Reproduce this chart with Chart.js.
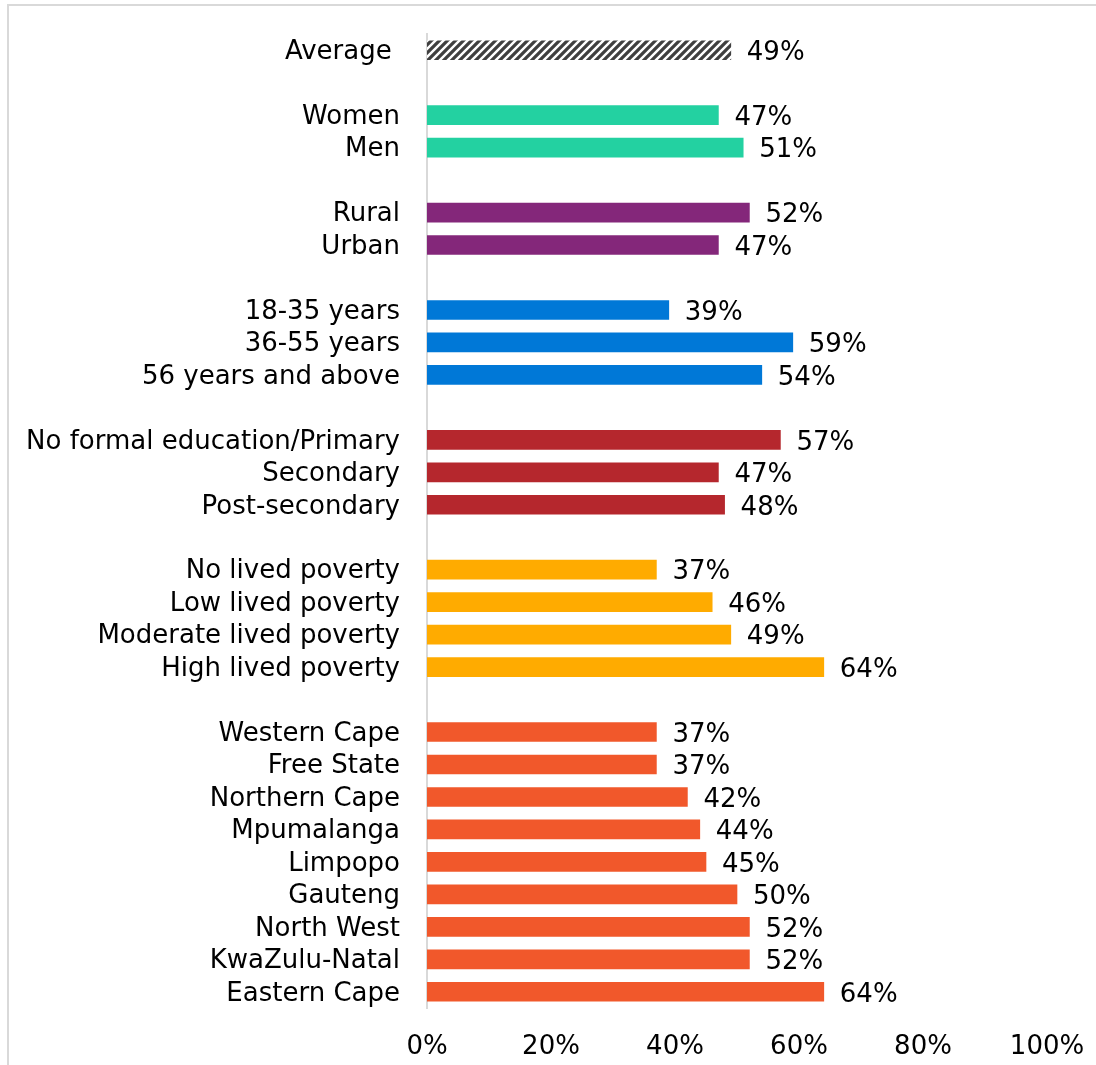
<!DOCTYPE html>
<html>
<head>
<meta charset="utf-8">
<script src="https://cdn.jsdelivr.net/npm/chart.js@4/dist/chart.umd.min.js"></script>
<style>
  html, body { margin: 0; padding: 0; background: #fff; }
  #wrap { position: relative; width: 1096px; height: 1065px; }
</style>
</head>
<body>
<div id="wrap"><canvas id="chart" width="1096" height="1065"></canvas></div>
<script>
// ─── Data ────────────────────────────────────────────────────────────────────
const averageLabels   = ['Average '];
const averageValues   = [49];
const genderLabels    = ['Women', 'Men'];
const genderValues    = [47, 51];
const locationLabels  = ['Rural', 'Urban'];
const locationValues  = [52, 47];
const ageLabels       = ['18-35 years', '36-55 years', '56 years and above'];
const ageValues       = [39, 59, 54];
const educationLabels = ['No formal education/Primary', 'Secondary', 'Post-secondary'];
const educationValues = [57, 47, 48];
const povertyLabels   = ['No lived poverty', 'Low lived poverty', 'Moderate lived poverty', 'High lived poverty'];
const povertyValues   = [37, 46, 49, 64];
const provinceLabels  = ['Western Cape', 'Free State', 'Northern Cape', 'Mpumalanga', 'Limpopo',
                         'Gauteng', 'North West', 'KwaZulu-Natal', 'Eastern Cape'];
const provinceValues  = [37, 37, 42, 44, 45, 50, 52, 52, 64];
const xTicks          = [0, 20, 40, 60, 80, 100];

// ─── Styles ──────────────────────────────────────────────────────────────────
const FONT = { family: "'DejaVu Sans', sans-serif", size: 26, weight: 'normal' };
const TXT  = '#000';
const LINE = '#d9d9d9';

function hatch() {
  const c = document.createElement('canvas');
  c.width = 8; c.height = 8;
  const g = c.getContext('2d');
  g.fillStyle = '#fff'; g.fillRect(0, 0, 8, 8);
  g.strokeStyle = '#3f3f3f'; g.lineWidth = 3.2;
  g.beginPath();
  g.moveTo(-4, 4); g.lineTo(4, -4);
  g.moveTo(0, 8);  g.lineTo(8, 0);
  g.moveTo(4, 12); g.lineTo(12, 4);
  g.stroke();
  return document.getElementById('chart').getContext('2d').createPattern(c, 'repeat');
}

const groups = [
  { labels: averageLabels,   values: averageValues,   color: hatch() },
  { labels: genderLabels,    values: genderValues,    color: '#23d1a1' },
  { labels: locationLabels,  values: locationValues,  color: '#84277a' },
  { labels: ageLabels,       values: ageValues,       color: '#0078d7' },
  { labels: educationLabels, values: educationValues, color: '#b5272d' },
  { labels: povertyLabels,   values: povertyValues,   color: '#ffab00' },
  { labels: provinceLabels,  values: provinceValues,  color: '#f1582b' }
];

// flatten, with an empty row between groups
const labels = [], values = [], colors = [];
groups.forEach((g, gi) => {
  if (gi > 0) { labels.push(''); values.push(null); colors.push('rgba(0,0,0,0)'); }
  g.labels.forEach((l, i) => { labels.push(l); values.push(g.values[i]); colors.push(g.color); });
});

// ─── Plugins ─────────────────────────────────────────────────────────────────
const frame = {
  id: 'frame',
  beforeDraw(chart) {
    const ctx = chart.ctx;
    ctx.save();
    ctx.strokeStyle = LINE; ctx.lineWidth = 2;
    ctx.beginPath();
    ctx.moveTo(8, 1065); ctx.lineTo(8, 5); ctx.lineTo(1096, 5);
    ctx.stroke();
    ctx.restore();
  }
};

const valueLabels = {
  id: 'valueLabels',
  afterDatasetsDraw(chart) {
    const ctx = chart.ctx;
    const meta = chart.getDatasetMeta(0);
    ctx.save();
    ctx.font = `${FONT.weight} ${FONT.size}px ${FONT.family}`;
    ctx.fillStyle = TXT;
    ctx.textAlign = 'left';
    ctx.textBaseline = 'middle';
    meta.data.forEach((bar, i) => {
      const v = values[i];
      if (v == null) return;
      ctx.fillText(v + '%', bar.x + 16, bar.y + 3);
    });
    ctx.restore();
  }
};

// ─── Chart ───────────────────────────────────────────────────────────────────
new Chart(document.getElementById('chart').getContext('2d'), {
  type: 'bar',
  data: {
    labels,
    datasets: [{
      data: values,
      backgroundColor: colors,
      borderWidth: 0,
      barThickness: 19
    }]
  },
  options: {
    indexAxis: 'y',
    responsive: false,
    animation: false,
    layout: { padding: { top: 34, right: 49, bottom: 0, left: 0 } },
    plugins: { legend: { display: false }, tooltip: { enabled: false } },
    scales: {
      x: {
        min: 0, max: 100,
        afterBuildTicks: s => { s.ticks = xTicks.map(v => ({ value: v })); },
        afterFit: s => { s.height = 57; s.paddingLeft = 0; s.paddingRight = 0; },
        grid: { display: false, drawTicks: false },
        border: { display: false },
        ticks: { color: TXT, font: FONT, padding: 24, callback: v => v + '%' }
      },
      y: {
        afterFit: s => { s.width = 427; s.paddingTop = 0; s.paddingBottom = 0; },
        grid: { display: false, drawTicks: false },
        border: { display: true, color: LINE, width: 2 },
        ticks: { color: TXT, font: FONT, padding: 27, autoSkip: false, labelOffset: 2 }
      }
    }
  },
  plugins: [frame, valueLabels]
});
</script>
</body>
</html>
